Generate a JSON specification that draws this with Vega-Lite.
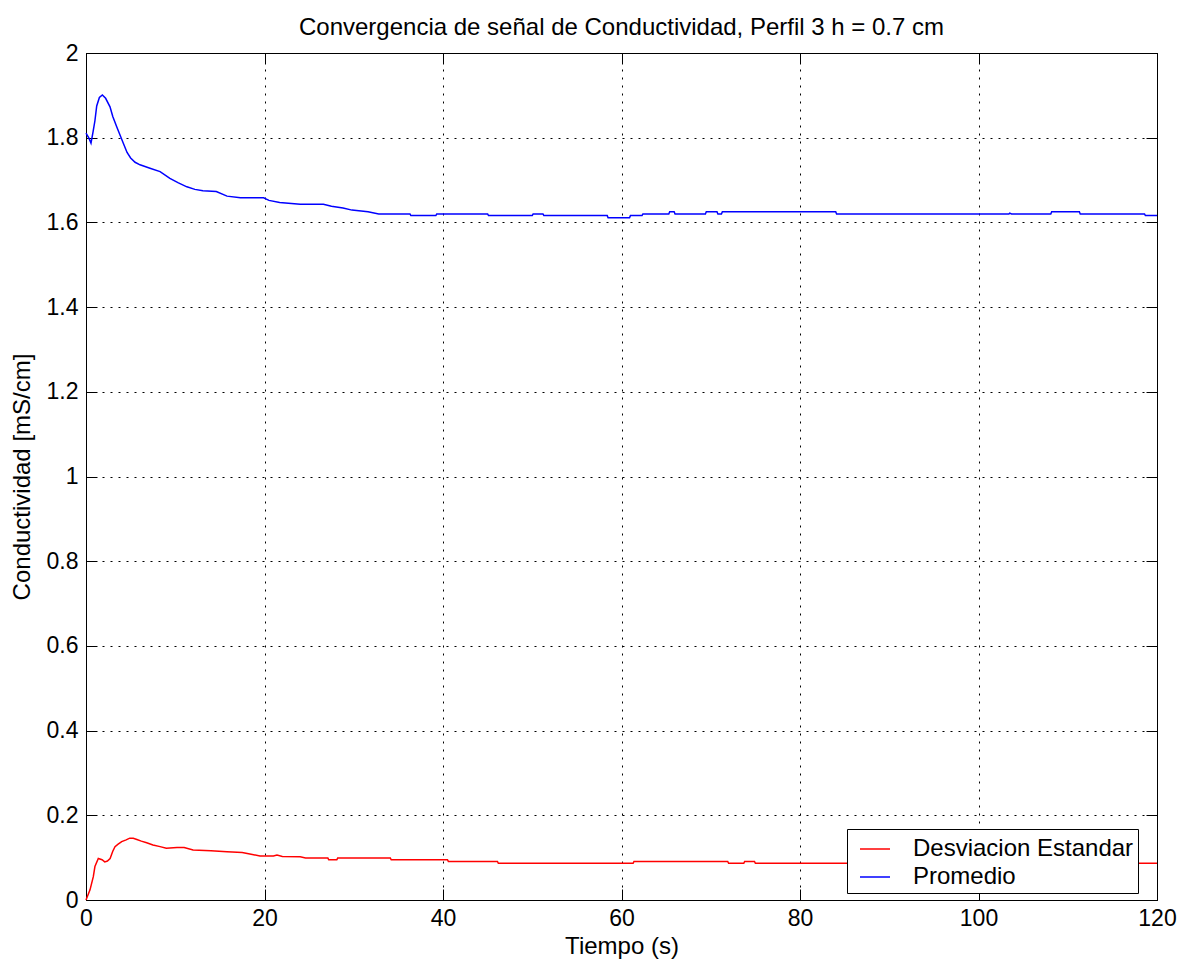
{
  "$schema": "https://vega.github.io/schema/vega-lite/v6.json",
  "width": 1071,
  "height": 847,
  "autosize": "none",
  "padding": {"left": 86, "top": 53, "right": 24, "bottom": 64},
  "background": "white",
  "title": {"text": "Convergencia de señal de Conductividad, Perfil 3 h = 0.7 cm", "fontSize": 24, "font": "Liberation Sans", "fontWeight": "normal", "color": "black", "offset": 2, "anchor": "middle"},
  "config": {
    "view": {"stroke": "black", "strokeWidth": 1},
    "axis": {
      "domainColor": "black", "domainWidth": 1,
      "tickColor": "black", "tickSize": -11, "tickWidth": 1,
      "labelFont": "Liberation Sans", "labelFontSize": 23, "labelColor": "black",
      "titleFont": "Liberation Sans", "titleFontSize": 24, "titleColor": "black", "titleFontWeight": "normal",
      "gridColor": "black", "gridDash": [2, 6], "gridWidth": 1, "gridOpacity": 1,
      "labelFlush": false, "labelOverlap": false
    }
  },
  "data": {"values": [
    {"t": 0, "v": 1.811, "s": "Promedio"},
    {"t": 0.3, "v": 1.8, "s": "Promedio"},
    {"t": 0.56, "v": 1.787, "s": "Promedio"},
    {"t": 0.8, "v": 1.815, "s": "Promedio"},
    {"t": 1.0, "v": 1.84, "s": "Promedio"},
    {"t": 1.2, "v": 1.875, "s": "Promedio"},
    {"t": 1.5, "v": 1.895, "s": "Promedio"},
    {"t": 1.83, "v": 1.901, "s": "Promedio"},
    {"t": 2.2, "v": 1.893, "s": "Promedio"},
    {"t": 2.69, "v": 1.873, "s": "Promedio"},
    {"t": 3.0, "v": 1.85, "s": "Promedio"},
    {"t": 3.44, "v": 1.826, "s": "Promedio"},
    {"t": 4.18, "v": 1.787, "s": "Promedio"},
    {"t": 4.6, "v": 1.765, "s": "Promedio"},
    {"t": 5.0, "v": 1.752, "s": "Promedio"},
    {"t": 5.5, "v": 1.742, "s": "Promedio"},
    {"t": 6.05, "v": 1.736, "s": "Promedio"},
    {"t": 7.17, "v": 1.728, "s": "Promedio"},
    {"t": 8.3, "v": 1.72, "s": "Promedio"},
    {"t": 9.4, "v": 1.704, "s": "Promedio"},
    {"t": 10.3, "v": 1.694, "s": "Promedio"},
    {"t": 11.3, "v": 1.684, "s": "Promedio"},
    {"t": 12.2, "v": 1.678, "s": "Promedio"},
    {"t": 13.1, "v": 1.675, "s": "Promedio"},
    {"t": 14.6, "v": 1.673, "s": "Promedio"},
    {"t": 15.8, "v": 1.662, "s": "Promedio"},
    {"t": 17.3, "v": 1.658, "s": "Promedio"},
    {"t": 19.9, "v": 1.658, "s": "Promedio"},
    {"t": 20.5, "v": 1.652, "s": "Promedio"},
    {"t": 21.7, "v": 1.647, "s": "Promedio"},
    {"t": 24.0, "v": 1.643, "s": "Promedio"},
    {"t": 26.6, "v": 1.643, "s": "Promedio"},
    {"t": 27.5, "v": 1.638, "s": "Promedio"},
    {"t": 28.8, "v": 1.634, "s": "Promedio"},
    {"t": 29.8, "v": 1.629, "s": "Promedio"},
    {"t": 31.6, "v": 1.625, "s": "Promedio"},
    {"t": 32.8, "v": 1.62, "s": "Promedio"},
    {"t": 36.3, "v": 1.62, "s": "Promedio"},
    {"t": 36.4, "v": 1.616, "s": "Promedio"},
    {"t": 39.2, "v": 1.616, "s": "Promedio"},
    {"t": 39.3, "v": 1.62, "s": "Promedio"},
    {"t": 45.0, "v": 1.62, "s": "Promedio"},
    {"t": 45.1, "v": 1.616, "s": "Promedio"},
    {"t": 50.0, "v": 1.616, "s": "Promedio"},
    {"t": 50.1, "v": 1.62, "s": "Promedio"},
    {"t": 51.2, "v": 1.62, "s": "Promedio"},
    {"t": 51.3, "v": 1.616, "s": "Promedio"},
    {"t": 58.4, "v": 1.616, "s": "Promedio"},
    {"t": 58.5, "v": 1.611, "s": "Promedio"},
    {"t": 60.9, "v": 1.611, "s": "Promedio"},
    {"t": 61.0, "v": 1.616, "s": "Promedio"},
    {"t": 62.3, "v": 1.616, "s": "Promedio"},
    {"t": 62.4, "v": 1.62, "s": "Promedio"},
    {"t": 65.3, "v": 1.62, "s": "Promedio"},
    {"t": 65.4, "v": 1.625, "s": "Promedio"},
    {"t": 65.9, "v": 1.625, "s": "Promedio"},
    {"t": 66.0, "v": 1.62, "s": "Promedio"},
    {"t": 69.4, "v": 1.62, "s": "Promedio"},
    {"t": 69.5, "v": 1.625, "s": "Promedio"},
    {"t": 70.7, "v": 1.625, "s": "Promedio"},
    {"t": 70.8, "v": 1.62, "s": "Promedio"},
    {"t": 71.2, "v": 1.62, "s": "Promedio"},
    {"t": 71.3, "v": 1.625, "s": "Promedio"},
    {"t": 84.0, "v": 1.625, "s": "Promedio"},
    {"t": 84.1, "v": 1.62, "s": "Promedio"},
    {"t": 103.4, "v": 1.62, "s": "Promedio"},
    {"t": 103.5, "v": 1.622, "s": "Promedio"},
    {"t": 103.7, "v": 1.62, "s": "Promedio"},
    {"t": 108.1, "v": 1.62, "s": "Promedio"},
    {"t": 108.2, "v": 1.625, "s": "Promedio"},
    {"t": 111.3, "v": 1.625, "s": "Promedio"},
    {"t": 111.4, "v": 1.62, "s": "Promedio"},
    {"t": 118.6, "v": 1.62, "s": "Promedio"},
    {"t": 118.7, "v": 1.616, "s": "Promedio"},
    {"t": 120, "v": 1.616, "s": "Promedio"},
    {"t": 0, "v": 0.0, "s": "Desviacion Estandar"},
    {"t": 0.45, "v": 0.024, "s": "Desviacion Estandar"},
    {"t": 0.82, "v": 0.055, "s": "Desviacion Estandar"},
    {"t": 1.0, "v": 0.079, "s": "Desviacion Estandar"},
    {"t": 1.38, "v": 0.098, "s": "Desviacion Estandar"},
    {"t": 1.8, "v": 0.095, "s": "Desviacion Estandar"},
    {"t": 2.1, "v": 0.09, "s": "Desviacion Estandar"},
    {"t": 2.4, "v": 0.092, "s": "Desviacion Estandar"},
    {"t": 2.7, "v": 0.098, "s": "Desviacion Estandar"},
    {"t": 3.0, "v": 0.115, "s": "Desviacion Estandar"},
    {"t": 3.25, "v": 0.126, "s": "Desviacion Estandar"},
    {"t": 3.6, "v": 0.132, "s": "Desviacion Estandar"},
    {"t": 4.0, "v": 0.138, "s": "Desviacion Estandar"},
    {"t": 4.5, "v": 0.142, "s": "Desviacion Estandar"},
    {"t": 4.9, "v": 0.146, "s": "Desviacion Estandar"},
    {"t": 5.3, "v": 0.146, "s": "Desviacion Estandar"},
    {"t": 5.7, "v": 0.143, "s": "Desviacion Estandar"},
    {"t": 6.2, "v": 0.139, "s": "Desviacion Estandar"},
    {"t": 6.8, "v": 0.135, "s": "Desviacion Estandar"},
    {"t": 7.5, "v": 0.13, "s": "Desviacion Estandar"},
    {"t": 8.3, "v": 0.126, "s": "Desviacion Estandar"},
    {"t": 9.0, "v": 0.122, "s": "Desviacion Estandar"},
    {"t": 10.2, "v": 0.124, "s": "Desviacion Estandar"},
    {"t": 11.0, "v": 0.124, "s": "Desviacion Estandar"},
    {"t": 12.0, "v": 0.118, "s": "Desviacion Estandar"},
    {"t": 14.0, "v": 0.116, "s": "Desviacion Estandar"},
    {"t": 15.8, "v": 0.114, "s": "Desviacion Estandar"},
    {"t": 17.5, "v": 0.112, "s": "Desviacion Estandar"},
    {"t": 18.5, "v": 0.108, "s": "Desviacion Estandar"},
    {"t": 19.5, "v": 0.104, "s": "Desviacion Estandar"},
    {"t": 21.0, "v": 0.104, "s": "Desviacion Estandar"},
    {"t": 21.4, "v": 0.106, "s": "Desviacion Estandar"},
    {"t": 22.0, "v": 0.103, "s": "Desviacion Estandar"},
    {"t": 24.0, "v": 0.102, "s": "Desviacion Estandar"},
    {"t": 24.6, "v": 0.099, "s": "Desviacion Estandar"},
    {"t": 27.1, "v": 0.099, "s": "Desviacion Estandar"},
    {"t": 27.2, "v": 0.095, "s": "Desviacion Estandar"},
    {"t": 28.1, "v": 0.095, "s": "Desviacion Estandar"},
    {"t": 28.2, "v": 0.099, "s": "Desviacion Estandar"},
    {"t": 34.1, "v": 0.099, "s": "Desviacion Estandar"},
    {"t": 34.2, "v": 0.095, "s": "Desviacion Estandar"},
    {"t": 40.5, "v": 0.095, "s": "Desviacion Estandar"},
    {"t": 40.6, "v": 0.091, "s": "Desviacion Estandar"},
    {"t": 46.1, "v": 0.091, "s": "Desviacion Estandar"},
    {"t": 46.2, "v": 0.0866, "s": "Desviacion Estandar"},
    {"t": 61.3, "v": 0.0866, "s": "Desviacion Estandar"},
    {"t": 61.4, "v": 0.091, "s": "Desviacion Estandar"},
    {"t": 71.9, "v": 0.091, "s": "Desviacion Estandar"},
    {"t": 72.0, "v": 0.0866, "s": "Desviacion Estandar"},
    {"t": 73.7, "v": 0.0866, "s": "Desviacion Estandar"},
    {"t": 73.8, "v": 0.091, "s": "Desviacion Estandar"},
    {"t": 74.9, "v": 0.091, "s": "Desviacion Estandar"},
    {"t": 75.0, "v": 0.0866, "s": "Desviacion Estandar"},
    {"t": 120, "v": 0.0866, "s": "Desviacion Estandar"}
  ]},
  "layer": [
    {
      "mark": {"type": "line", "strokeWidth": 1.5, "interpolate": "linear"},
      "encoding": {
        "x": {"field": "t", "type": "quantitative", "scale": {"domain": [0, 120], "nice": false},
              "axis": {"orient": "bottom", "values": [0, 20, 40, 60, 80, 100, 120], "title": "Tiempo (s)", "grid": true, "labelPadding": 18, "titlePadding": 4}},
        "y": {"field": "v", "type": "quantitative", "scale": {"domain": [0, 2], "nice": false},
              "axis": {"orient": "left", "values": [0, 0.2, 0.4, 0.6, 0.8, 1, 1.2, 1.4, 1.6, 1.8, 2], "format": ".1~f", "title": "Conductividad [mS/cm]", "grid": true, "labelPadding": 19, "titlePadding": 12}},
        "color": {"field": "s", "type": "nominal",
                  "scale": {"domain": ["Desviacion Estandar", "Promedio"], "range": ["#ff0000", "#0000ff"]},
                  "legend": {"orient": "none", "legendX": 761, "legendY": 776, "title": null, "symbolType": "stroke", "symbolSize": 900, "symbolStrokeWidth": 1.5, "symbolOffset": 8, "labelFontSize": 24, "labelFont": "Liberation Sans", "labelColor": "black", "labelOffset": 22, "labelLimit": 400, "strokeColor": "black", "fillColor": "white", "padding": 4, "rowPadding": 0, "cornerRadius": 0, "labelBaseline": "middle"}}
      }
    },
    {
      "mark": {"type": "line", "opacity": 0},
      "encoding": {
        "x": {"field": "t", "type": "quantitative", "axis": {"orient": "top", "values": [0, 20, 40, 60, 80, 100, 120], "labels": false, "title": null, "grid": false}},
        "y": {"field": "v", "type": "quantitative", "axis": {"orient": "right", "values": [0, 0.2, 0.4, 0.6, 0.8, 1, 1.2, 1.4, 1.6, 1.8, 2], "labels": false, "title": null, "grid": false}},
        "detail": {"field": "s", "type": "nominal"}
      }
    }
  ],
  "resolve": {"axis": {"x": "independent", "y": "independent"}}
}
